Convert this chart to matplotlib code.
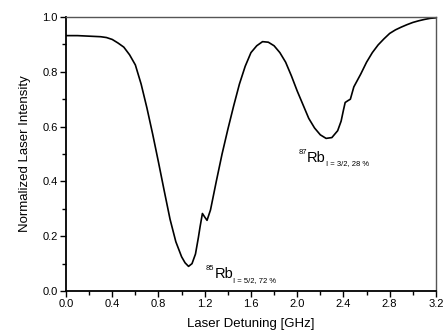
import matplotlib
matplotlib.use("Agg")
import matplotlib.pyplot as plt
from matplotlib.ticker import MultipleLocator

plt.rcParams['font.family'] = ['Liberation Sans', 'DejaVu Sans']

detuning = [0.00, 0.10, 0.20, 0.30, 0.35, 0.40, 0.45, 0.50, 0.55, 0.60, 0.65,
            0.70, 0.75, 0.80, 0.85, 0.90, 0.95, 1.00, 1.03, 1.06, 1.09, 1.12,
            1.145, 1.16, 1.18, 1.20, 1.22, 1.25, 1.30, 1.35, 1.40, 1.45, 1.50,
            1.55, 1.60, 1.65, 1.70, 1.75, 1.80, 1.85, 1.90, 1.95, 2.00, 2.05,
            2.10, 2.15, 2.20, 2.25, 2.30, 2.35, 2.38, 2.40, 2.415, 2.44, 2.46,
            2.49, 2.55, 2.60, 2.65, 2.70, 2.75, 2.80, 2.85, 2.90, 2.95, 3.00,
            3.05, 3.10, 3.15, 3.20]
intensity = [0.932, 0.932, 0.930, 0.928, 0.925, 0.918, 0.905, 0.890, 0.862, 0.825, 0.755,
             0.668, 0.572, 0.470, 0.365, 0.262, 0.180, 0.125, 0.103, 0.090, 0.100, 0.135,
             0.195, 0.235, 0.283, 0.270, 0.258, 0.296, 0.400, 0.500, 0.590, 0.675, 0.755,
             0.820, 0.870, 0.895, 0.910, 0.908, 0.895, 0.870, 0.835, 0.785, 0.730, 0.680,
             0.630, 0.595, 0.570, 0.557, 0.560, 0.585, 0.620, 0.660, 0.688, 0.695, 0.700,
             0.745, 0.792, 0.835, 0.870, 0.898, 0.920, 0.940, 0.953, 0.963, 0.972, 0.980,
             0.986, 0.991, 0.995, 0.997]

x_ticks = [0.0, 0.4, 0.8, 1.2, 1.6, 2.0, 2.4, 2.8, 3.2]
y_ticks = [0.0, 0.2, 0.4, 0.6, 0.8, 1.0]

fig = plt.figure(figsize=(4.43, 3.33), dpi=100)
ax = fig.add_axes([0.149, 0.126, 0.835, 0.823])
ax.plot(detuning, intensity, color='black', linewidth=1.2)

ax.set_xlim(0, 3.2)
ax.set_ylim(0, 1.0)
ax.set_xticks(x_ticks)
ax.set_xticklabels([f"{t:.1f}" for t in x_ticks])
ax.set_yticks(y_ticks)
ax.set_yticklabels([f"{t:.1f}" for t in y_ticks])
ax.xaxis.set_minor_locator(MultipleLocator(0.2))
ax.yaxis.set_minor_locator(MultipleLocator(0.1))
ax.tick_params(which='both', direction='out', top=False, right=False,
               labelsize=8, width=1.0, pad=2)
ax.tick_params(which='major', length=4)
ax.tick_params(which='minor', length=3)

for side in ['left', 'bottom']:
    ax.spines[side].set_linewidth(1.3)
    ax.spines[side].set_color('black')
for side in ['top', 'right']:
    ax.spines[side].set_linewidth(1.0)
    ax.spines[side].set_color('#555555')

ax.set_xlabel('Laser Detuning [GHz]', fontsize=9.5, labelpad=6)
ax.set_ylabel('Normalized Laser Intensity', fontsize=9.5, labelpad=8)


def isotope(x, y, mass, sub):
    ax.text(x, y, 'Rb', fontsize=10.5, ha='left', va='baseline')
    ax.annotate(mass, xy=(x, y), xycoords='data', xytext=(0, 6),
                textcoords='offset points', fontsize=5.5, ha='right', va='baseline')
    ax.annotate(sub, xy=(x, y), xycoords='data', xytext=(13.5, -2.5),
                textcoords='offset points', fontsize=5.5, ha='left', va='baseline')


isotope(1.285, 0.047, '85', 'I = 5/2, 72 %')
isotope(2.085, 0.471, '87', 'I = 3/2, 28 %')

fig.savefig('out.png', dpi=100)
